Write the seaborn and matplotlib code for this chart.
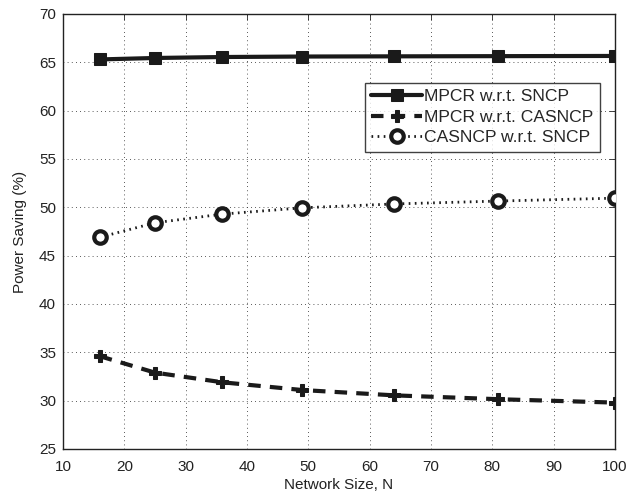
import matplotlib
matplotlib.use("Agg")
import matplotlib.pyplot as plt
import seaborn as sns
import pandas as pd

network_size = [16, 25, 36, 49, 64, 81, 100]
mpcr_sncp = [65.30, 65.45, 65.55, 65.60, 65.62, 65.64, 65.66]
mpcr_casncp = [34.6, 32.9, 31.9, 31.1, 30.55, 30.15, 29.8]
casncp_sncp = [46.9, 48.4, 49.3, 49.95, 50.35, 50.65, 50.95]
labels = ["MPCR w.r.t. SNCP", "MPCR w.r.t. CASNCP", "CASNCP w.r.t. SNCP"]
x_ticks = [10, 20, 30, 40, 50, 60, 70, 80, 90, 100]
y_ticks = [25, 30, 35, 40, 45, 50, 55, 60, 65, 70]

sns.set_style("white")
plt.rcParams['font.family'] = ['Liberation Sans', 'DejaVu Sans']

fig = plt.figure(figsize=(6.29, 4.95), dpi=100)
ax = fig.add_axes([63/629, 46/495, (615-63)/629, (449-14)/495])

df1 = pd.DataFrame({"N": network_size, "v": mpcr_sncp})
df2 = pd.DataFrame({"N": network_size, "v": mpcr_casncp})
df3 = pd.DataFrame({"N": network_size, "v": casncp_sncp})

sns.lineplot(data=df1, x="N", y="v", ax=ax, color="#1a1a1a", lw=3,
             marker="s", markersize=8, markeredgecolor="#1a1a1a",
             markerfacecolor="#1a1a1a", label=labels[0], zorder=5)
sns.lineplot(data=df2, x="N", y="v", ax=ax, color="#1a1a1a", lw=3,
             linestyle=(0, (3, 2.2)), marker="P", markersize=8.5,
             markeredgecolor="#1a1a1a", markerfacecolor="#1a1a1a",
             label=labels[1], zorder=5)
sns.lineplot(data=df3, x="N", y="v", ax=ax, color="#1a1a1a", lw=2,
             linestyle=(0, (0.6, 1.6)), marker="o", markersize=9,
             markeredgewidth=3, markeredgecolor="#1a1a1a",
             markerfacecolor="white", label=labels[2], zorder=5)

ax.set_xlim(10, 100)
ax.set_ylim(25, 70)
ax.set_xticks(x_ticks)
ax.set_yticks(y_ticks)
ax.grid(True, color="#222222", linestyle=(0, (1, 4)), linewidth=0.6)
ax.tick_params(axis="both", direction="in", top=True, right=True, length=4,
               width=0.6, labelsize=11, colors="#222222")
ax.tick_params(axis="x", pad=8)
ax.tick_params(axis="y", pad=5)
for s in ax.spines.values():
    s.set_color("#222222")
    s.set_linewidth(1.0)
ax.set_xlabel("Network Size, N", fontsize=11, color="#222222", labelpad=3)
ax.set_ylabel("Power Saving (%)", fontsize=11, color="#222222", labelpad=9)

leg = ax.legend(loc="upper left", bbox_to_anchor=((365-63)/552, (449-83)/435),
                fontsize=12.6, frameon=True, fancybox=False, edgecolor="#111111",
                handlelength=2.9, borderpad=0.35, labelspacing=0.3,
                handletextpad=0.15, borderaxespad=0)
leg.get_frame().set_linewidth(1.0)

fig.savefig("out.png", dpi=100)
